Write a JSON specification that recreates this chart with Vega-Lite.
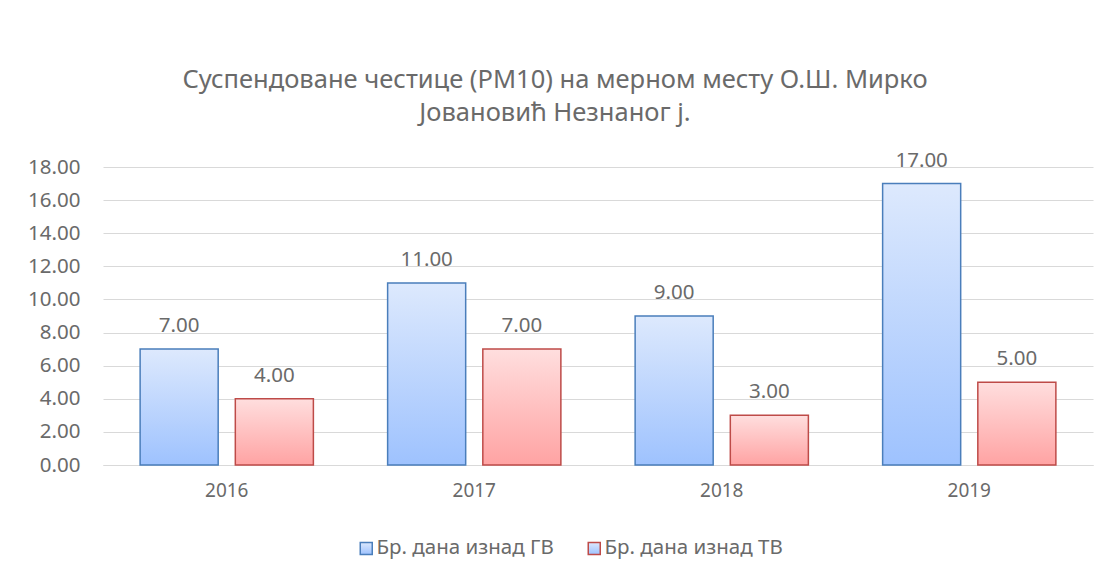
{
  "$schema": "https://vega.github.io/schema/vega-lite/v6.json",
  "width": 990,
  "height": 298,
  "autosize": {"type": "none"},
  "padding": {"left": 103, "top": 167, "right": 16, "bottom": 115},
  "background": "white",
  "title": {
    "text": ["Суспендоване честице (PM10) на мерном месту О.Ш. Мирко", "Јовановић Незнаног ј."],
    "anchor": "middle",
    "frame": "group",
    "dx": -43,
    "offset": 24,
    "font": "Noto Sans",
    "fontSize": 25.5,
    "fontWeight": "normal",
    "color": "#6a6a6a",
    "lineHeight": 33
  },
  "config": {
    "view": {"stroke": null},
    "font": "Noto Sans"
  },
  "data": {
    "values": [
      {"year": "2016", "series": "Бр. дана изнад ГВ", "value": 7},
      {"year": "2016", "series": "Бр. дана изнад ТВ", "value": 4},
      {"year": "2017", "series": "Бр. дана изнад ГВ", "value": 11},
      {"year": "2017", "series": "Бр. дана изнад ТВ", "value": 7},
      {"year": "2018", "series": "Бр. дана изнад ГВ", "value": 9},
      {"year": "2018", "series": "Бр. дана изнад ТВ", "value": 3},
      {"year": "2019", "series": "Бр. дана изнад ГВ", "value": 17},
      {"year": "2019", "series": "Бр. дана изнад ТВ", "value": 5}
    ]
  },
  "encoding": {
    "x": {
      "field": "year",
      "type": "nominal",
      "scale": {"paddingInner": 0.3, "paddingOuter": 0.15},
      "axis": {
        "title": null,
        "labelAngle": 0,
        "labelFont": "Noto Sans",
        "labelFontSize": 19,
        "labelColor": "#6a6a6a",
        "labelPadding": 16,
        "ticks": false,
        "domainColor": "#d9d9d9",
        "domainWidth": 1
      }
    },
    "xOffset": {
      "field": "series",
      "type": "nominal",
      "sort": ["Бр. дана изнад ГВ", "Бр. дана изнад ТВ"],
      "scale": {"paddingInner": 0.18, "paddingOuter": 0}
    },
    "y": {
      "field": "value",
      "type": "quantitative",
      "scale": {"domain": [0, 18], "nice": false},
      "axis": {
        "title": null,
        "values": [0, 2, 4, 6, 8, 10, 12, 14, 16, 18],
        "format": ".2f",
        "labelFont": "Noto Sans",
        "labelFontSize": 20.5,
        "labelColor": "#6a6a6a",
        "labelPadding": 23,
        "ticks": false,
        "domain": false,
        "gridColor": "#d9d9d9",
        "gridWidth": 1
      }
    },
    "stroke": {
      "field": "series",
      "type": "nominal",
      "scale": {
        "domain": ["Бр. дана изнад ГВ", "Бр. дана изнад ТВ"],
        "range": ["#4a7ebb", "#be4b48"]
      },
      "legend": {
        "title": null,
        "orient": "none",
        "direction": "horizontal",
        "legendX": 253,
        "legendY": 371,
        "symbolType": "square",
        "symbolSize": 144,
        "symbolStrokeWidth": 1.5,
        "labelFont": "Noto Sans",
        "labelFontSize": 20.5,
        "labelColor": "#6a6a6a",
        "labelLimit": 400,
        "labelOffset": 0,
        "columnPadding": 30,
        "encode": {
          "symbols": {
            "update": {
              "fill": {"signal": "datum.value === 'Бр. дана изнад ГВ' ? '#c2d8fd' : '#ffc6c6'"},
              "fillOpacity": {"value": 1}
            }
          }
        }
      }
    }
  },
  "layer": [
    {
      "transform": [{"filter": "datum.series === 'Бр. дана изнад ГВ'"}],
      "mark": {
        "type": "bar",
        "strokeWidth": 1.5,
        "fill": {"gradient": "linear", "x1": 0, "y1": 0, "x2": 0, "y2": 1, "stops": [{"offset": 0, "color": "#dde9fd"}, {"offset": 1, "color": "#9ec2fe"}]}
      }
    },
    {
      "transform": [{"filter": "datum.series === 'Бр. дана изнад ТВ'"}],
      "mark": {
        "type": "bar",
        "strokeWidth": 1.5,
        "fill": {"gradient": "linear", "x1": 0, "y1": 0, "x2": 0, "y2": 1, "stops": [{"offset": 0, "color": "#ffdede"}, {"offset": 1, "color": "#ffa3a3"}]}
      }
    },
    {
      "mark": {"type": "text", "baseline": "middle", "dy": -23, "font": "Noto Sans", "fontSize": 20.5, "fill": "#6a6a6a", "strokeWidth": 0},
      "encoding": {
        "text": {"field": "value", "type": "quantitative", "format": ".2f"},
        "stroke": {"value": null}
      }
    }
  ]
}
